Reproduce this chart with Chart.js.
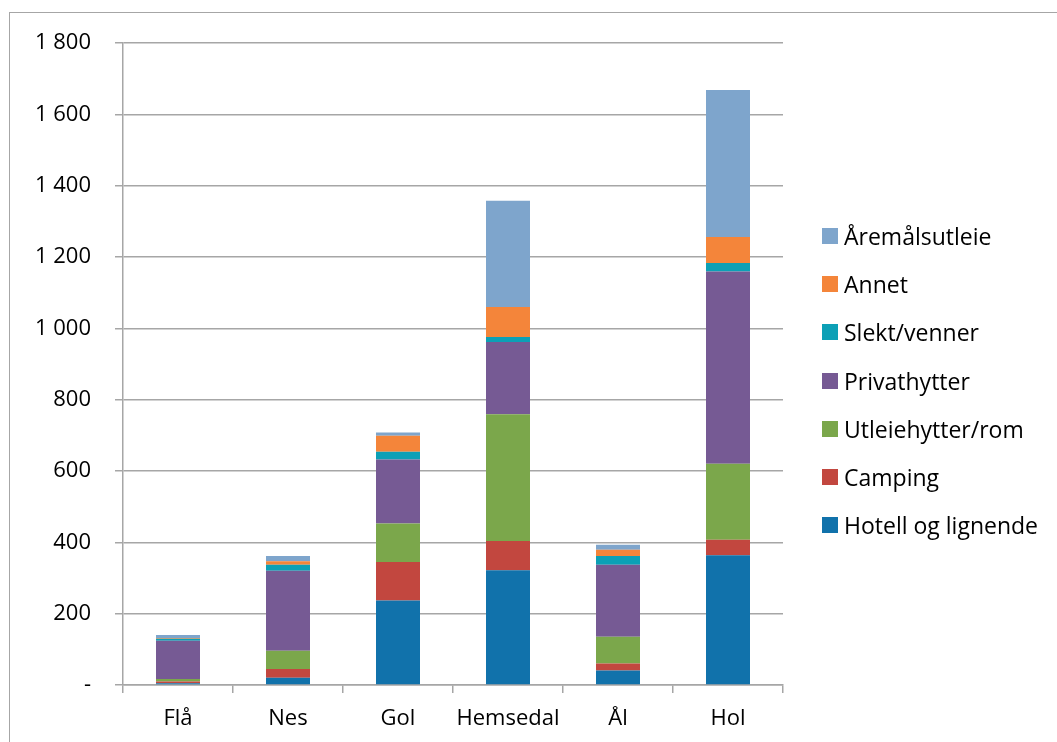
<!DOCTYPE html>
<html>
<head>
<meta charset="utf-8">
<script src="https://cdn.jsdelivr.net/npm/chart.js@4"></script>
<style>
    html, body { margin: 0; padding: 0; background: #fff; overflow: hidden; }
    #wrap { position: relative; width: 1057px; height: 742px; }
    #frame { position: absolute; left: 9px; top: 12px; width: 1100px; height: 800px; border: 1.5px solid #a6a6a6; box-sizing: border-box; }
    #legend { position: absolute; left: 822px; top: 212px; font-family: 'Open Sans', sans-serif; font-size: 23px; color: #000; }
    .item { height: 48.2px; display: flex; align-items: center; margin: 0; }
    .item span.box { width: 16px; height: 16px; margin-right: 6px; display: inline-block; }
</style>
</head>
<body>
<div id="wrap">
    <div id="frame"></div>
    <canvas id="chart" width="1057" height="742"></canvas>
    <div id="legend"></div>
</div>
<script>
const kommuner = ['Flå', 'Nes', 'Gol', 'Hemsedal', 'Ål', 'Hol'];

// values, bottom to top
const hotell      = [5, 20, 237, 322, 41, 364];
const camping     = [5, 25, 108, 82, 19, 43];
const utleiehytter = [7, 51, 108, 355, 75, 213];
const privathytter = [107, 224, 179, 203, 202, 539];
const slekt       = [6, 17, 22, 14, 25, 24];
const annet       = [2, 10, 45, 84, 17, 73];
const aremal      = [8, 15, 9, 298, 14, 412];

const yTicks = [0, 200, 400, 600, 800, 1000, 1200, 1400, 1600, 1800];

const series = [
    { label: 'Hotell og lignende', data: hotell, color: '#1172ab' },
    { label: 'Camping', data: camping, color: '#c2473f' },
    { label: 'Utleiehytter/rom', data: utleiehytter, color: '#7ba74b' },
    { label: 'Privathytter', data: privathytter, color: '#765a94' },
    { label: 'Slekt/venner', data: slekt, color: '#0ca0b6' },
    { label: 'Annet', data: annet, color: '#f4853a' },
    { label: 'Åremålsutleie', data: aremal, color: '#7ea5cc' }
];

const gridColor = '#a6a6a6';

function fmt(v) {
    if (v === 0) return '-';
    return v.toString().replace(/\B(?=(\d{3})+(?!\d))/g, ' ');
}

new Chart(document.getElementById('chart'), {
    type: 'bar',
    data: {
        labels: kommuner,
        datasets: series.map(s => ({
            label: s.label,
            data: s.data,
            backgroundColor: s.color,
            borderWidth: 0,
            barPercentage: 0.4,
            categoryPercentage: 1
        }))
    },
    options: {
        responsive: false,
        animation: false,
        layout: { padding: { top: 43, right: 274, left: 0, bottom: 0 } },
        plugins: {
            legend: { display: false },
            tooltip: { enabled: false }
        },
        scales: {
            x: {
                stacked: true,
                afterFit: scale => { scale.height = 57; },
                grid: { drawOnChartArea: false, drawTicks: true, tickLength: 8, color: gridColor, lineWidth: 1.5 },
                border: { color: gridColor, width: 1.5 },
                ticks: { color: '#000', font: { family: 'Open Sans', size: 22 }, padding: 13 }
            },
            y: {
                stacked: true,
                min: 0,
                max: 1800,
                afterFit: scale => { scale.width = 123; },
                afterBuildTicks: scale => { scale.ticks = yTicks.map(v => ({ value: v })); },
                grid: { color: gridColor, lineWidth: 1.5, tickLength: 8 },
                border: { color: gridColor, width: 1.5 },
                ticks: { color: '#000', font: { family: 'Open Sans', size: 22 }, padding: 24, callback: v => fmt(v) }
            }
        }
    }
});

// legend, reversed like the stack
const legend = document.getElementById('legend');
series.slice().reverse().forEach(s => {
    const row = document.createElement('div');
    row.className = 'item';
    const box = document.createElement('span');
    box.className = 'box';
    box.style.background = s.color;
    row.appendChild(box);
    row.appendChild(document.createTextNode(s.label));
    legend.appendChild(row);
});
</script>
</body>
</html>
